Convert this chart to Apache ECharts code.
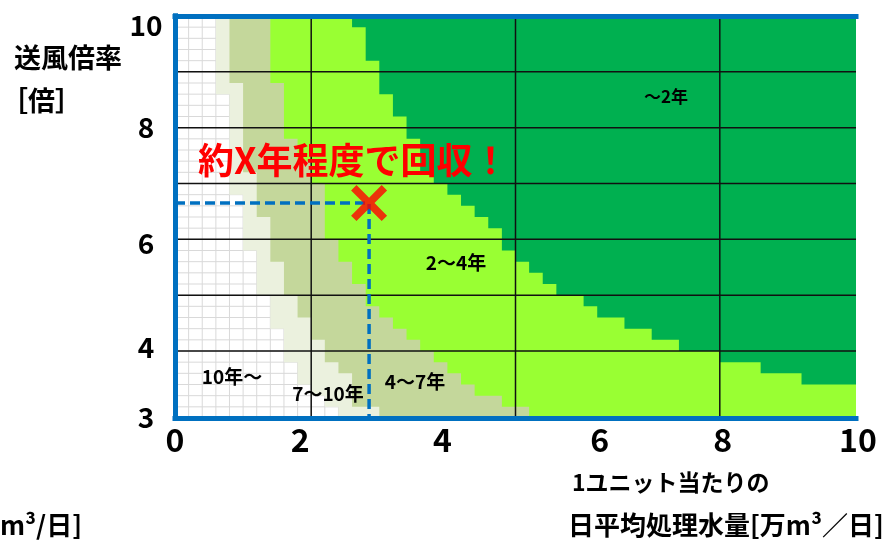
<!DOCTYPE html>
<html>
<head>
<meta charset="utf-8">
<script src="https://cdn.jsdelivr.net/npm/echarts@6/dist/echarts.min.js"></script>
<style>
  html, body { margin: 0; padding: 0; background: #ffffff; }
  #chart { width: 887px; height: 540px; }
</style>
</head>
<body>
<div id="chart"></div>
<script>
// Axis ranges and the size of one table cell (x: 万m³/日, y: 倍)
const xMin = 0, xMax = 10, yMin = 2.8, yMax = 10;
const cellW = 0.2, cellH = 0.2;

// Tick labels
const xTicks = [0, 2, 4, 6, 8, 10];
const yTicks = [3, 4, 6, 8, 10];

// Bold grid lines
const gridX = [2, 5, 8];
const gridY = [4, 5, 6, 7, 8, 9];

// First column (cell index, 0-49) of each payback band, row by row from y=10 downward
const lightStart  = [3,3,3,3,3,3,3,4,4,4,4,4,4,4,4,4,5,5,5,5,5,6,6,6,6,7,7,7,8,8,8,9,9,10,11,12];
const oliveStart  = [4,4,4,4,4,4,5,5,5,5,5,5,5,5,6,6,6,6,7,7,7,7,8,8,8,9,9,10,10,11,11,12,13,13,13,15];
const brightStart = [7,7,7,7,7,7,8,8,8,8,8,9,9,10,10,11,11,11,11,11,12,12,13,13,14,14,15,16,17,18,19,20,21,22,24,26];
const darkStart   = [13,14,14,14,15,15,15,16,16,17,17,18,18,18,19,20,21,22,23,24,24,25,26,27,28,30,31,33,35,37,40,43,46,50,50,50];

// Band names and colours: 10年～, 7～10年, 4～7年, 2～4年, ～2年
const bandNames  = ['10年～', '7～10年', '4～7年', '2～4年', '～2年'];
const bandColors = ['#FFFFFF', '#EBF1DE', '#C4D79B', '#99FF33', '#00B050'];
const bandStarts = [null, lightStart, oliveStart, brightStart, darkStart];

// Example operating point (水量, 送風倍率)
const paybackPoint = [2.85, 6.65];

const rowCount = lightStart.length;
const colCount = Math.round((xMax - xMin) / cellW);

const chart = echarts.init(document.getElementById('chart'), null, { renderer: 'canvas' });

const numFont = '"Liberation Sans Narrow", "Noto Sans CJK JP", sans-serif';
const jpFont = '"Noto Sans CJK JP", sans-serif';
const blue = '#0070C0';

function renderBand(params, api) {
  const k = api.value(2);
  if (k === 0) {
    // white band with the light cell grid
    const tl = api.coord([xMin, yMax]);
    const br = api.coord([xMax, yMin]);
    const children = [{
      type: 'rect',
      shape: { x: tl[0], y: tl[1], width: br[0] - tl[0], height: br[1] - tl[1] },
      style: { fill: bandColors[0] }
    }];
    for (let c = 1; c < colCount; c++) {
      const a = api.coord([xMin + c * cellW, yMax]);
      const b = api.coord([xMin + c * cellW, yMin]);
      children.push({ type: 'line', shape: { x1: a[0], y1: a[1], x2: b[0], y2: b[1] },
        style: { stroke: '#D9D9D9', lineWidth: 1 } });
    }
    for (let r = 1; r <= rowCount; r++) {
      const a = api.coord([xMin, yMax - r * cellH]);
      const b = api.coord([xMax, yMax - r * cellH]);
      children.push({ type: 'line', shape: { x1: a[0], y1: a[1], x2: b[0], y2: b[1] },
        style: { stroke: '#D9D9D9', lineWidth: 1 } });
    }
    return { type: 'group', children: children };
  }
  // staircase polygon covering every cell from the band's first column to the right edge
  const starts = bandStarts[k];
  const pts = [];
  for (let r = 0; r < rowCount; r++) {
    const x = xMin + starts[r] * cellW;
    pts.push(api.coord([x, yMax - r * cellH]));
    pts.push(api.coord([x, Math.max(yMin, yMax - (r + 1) * cellH)]));
  }
  pts.push(api.coord([xMax, yMin]));
  pts.push(api.coord([xMax, yMax]));
  return { type: 'polygon', shape: { points: pts }, style: { fill: bandColors[k] } };
}

function renderGridLine(params, api) {
  const v = api.value(0), dir = api.value(2);
  const a = dir === 0 ? api.coord([v, yMin]) : api.coord([xMin, api.value(1)]);
  const b = dir === 0 ? api.coord([v, yMax]) : api.coord([xMax, api.value(1)]);
  return { type: 'line', shape: { x1: a[0], y1: a[1], x2: b[0], y2: b[1] },
    style: { stroke: '#111111', lineWidth: 1.5 } };
}

// small per-label nudges
const xShift = { 0: 0, 2: -11, 4: -5, 6: 16, 8: 3, 10: 2 };
const yShift = { 3: 11, 4: -4, 6: 4, 8: 0, 10: 9 };
const xRich = {}, yRich = {};
xTicks.forEach(v => {
  const s = xShift[v];
  xRich['t' + v] = { fontFamily: numFont, fontWeight: 'bold', fontSize: 32, color: '#000',
    padding: [0, s < 0 ? -2 * s : 0, 0, s > 0 ? 2 * s : 0] };
});
yTicks.forEach(v => {
  const s = yShift[v];
  yRich['t' + v] = { fontFamily: numFont, fontWeight: 'bold', fontSize: 28, color: '#000',
    padding: [s > 0 ? 2 * s : 0, 0, s < 0 ? -2 * s : 0, 0] };
});

const frameLine = { show: true, lineStyle: { color: blue, width: 5, cap: 'square' } };

function txt(text, x, y, size, opts) {
  return Object.assign({
    type: 'text', x: x, y: y, z: 100,
    style: Object.assign({
      text: text, fontFamily: jpFont, fontWeight: 'bold', fontSize: size,
      fill: '#000', align: 'left', verticalAlign: 'middle'
    }, opts || {})
  });
}

const option = {
  animation: false,
  backgroundColor: '#ffffff',
  grid: { left: 175, right: 31, top: 16, bottom: 122, containLabel: false },
  xAxis: [{
    type: 'value', min: xMin, max: xMax, interval: 2, position: 'bottom', z: 10,
    axisLine: frameLine, axisTick: { show: false }, splitLine: { show: false },
    axisLabel: {
      margin: 6, verticalAlign: 'top',
      formatter: v => '{t' + v + '|' + v + '}', rich: xRich
    }
  }, {
    type: 'value', min: xMin, max: xMax, position: 'top', z: 10,
    axisLine: frameLine, axisTick: { show: false }, splitLine: { show: false }, axisLabel: { show: false }
  }],
  yAxis: [{
    type: 'value', min: yMin, max: yMax, position: 'left', z: 10,
    axisLine: frameLine, axisTick: { show: false }, splitLine: { show: false },
    axisLabel: {
      customValues: yTicks, margin: 29, align: 'center',
      formatter: v => '{t' + v + '|' + v + '}', rich: yRich
    }
  }, {
    type: 'value', min: yMin, max: yMax, position: 'right', z: 10,
    axisLine: frameLine, axisTick: { show: false }, splitLine: { show: false }, axisLabel: { show: false }
  }],
  series: [{
    name: 'bands', type: 'custom', z: 1, silent: true,
    renderItem: renderBand,
    data: bandNames.map((n, k) => ({ name: n, value: [xMin, yMin, k] }))
  }, {
    name: 'grid', type: 'custom', z: 2, silent: true,
    renderItem: renderGridLine,
    data: gridX.map(v => [v, yMin, 0]).concat(gridY.map(v => [xMin, v, 1]))
  }, {
    name: 'guide', type: 'line', z: 4, silent: true, showSymbol: false,
    lineStyle: { color: blue, width: 3.5, type: [10, 5] },
    data: [[xMin, paybackPoint[1]], paybackPoint, [paybackPoint[0], yMin]]
  }, {
    name: 'point', type: 'scatter', z: 6, silent: true,
    symbol: 'path://M1.5,0 L5,3.5 L8.5,0 L10,1.5 L6.5,5 L10,8.5 L8.5,10 L5,6.5 L1.5,10 L0,8.5 L3.5,5 L0,1.5 Z',
    symbolSize: 36, itemStyle: { color: '#FF0000' },
    data: [paybackPoint]
  }],
  graphic: { elements: [
    txt('送風倍率', 14, 58, 27),
    txt('［倍］', 1, 101, 27),
    txt('1ユニット当たりの', 572, 482, 23),
    txt('日平均処理水量[万m³／日]', 568, 525, 26),
    txt('m³/日]', 82, 525, 26, { align: 'right' }),
    txt('約X年程度で回収！', 198, 160, 36, { fill: '#FF0000' }),
    txt(bandNames[4], 666, 97, 17, { align: 'center' }),
    txt(bandNames[3], 456, 263, 19, { align: 'center' }),
    txt(bandNames[2], 415, 382, 19, { align: 'center' }),
    txt(bandNames[1], 328, 394, 19, { align: 'center' }),
    txt(bandNames[0], 232, 377, 19, { align: 'center' })
  ] }
};

chart.setOption(option);
</script>
</body>
</html>
